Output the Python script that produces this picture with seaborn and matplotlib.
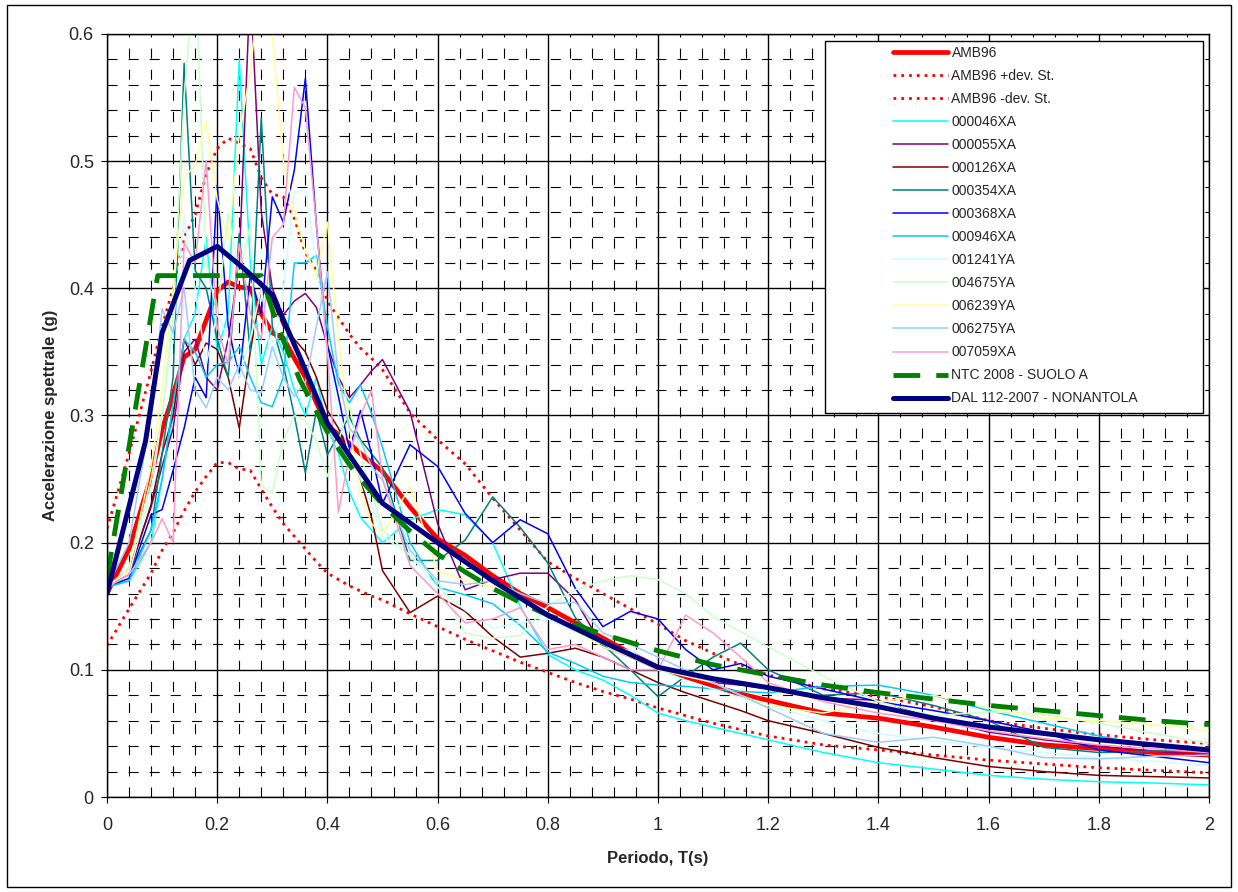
import matplotlib
matplotlib.use("Agg")
import matplotlib.pyplot as plt
from matplotlib.patches import Rectangle
from matplotlib.ticker import MultipleLocator, FuncFormatter
import seaborn as sns

# periods (s) for AMB96 curves and recorded spectra
periods = [0, 0.04, 0.08, 0.10, 0.12, 0.14, 0.16, 0.18, 0.20, 0.22,
           0.24, 0.26, 0.28, 0.30, 0.32, 0.34, 0.36, 0.38, 0.40, 0.42,
           0.44, 0.46, 0.48, 0.50, 0.55, 0.60, 0.65, 0.70, 0.75, 0.80,
           0.85, 0.90, 0.95, 1.00, 1.05, 1.10, 1.15, 1.20, 1.3, 1.4,
           1.5, 1.6, 1.7, 1.8, 1.9, 2.0]

amb96 = [0.160, 0.195, 0.252, 0.289, 0.316, 0.346, 0.352, 0.375, 0.398, 0.405,
         0.401, 0.400, 0.380, 0.365, 0.361, 0.345, 0.330, 0.310, 0.292, 0.285,
         0.278, 0.270, 0.263, 0.256, 0.228, 0.203, 0.190, 0.174, 0.160, 0.149,
         0.137, 0.125, 0.113, 0.102, 0.094, 0.087, 0.081, 0.076, 0.066, 0.062,
         0.055, 0.047, 0.041, 0.038, 0.035, 0.033]
amb96_plus = [0.211, 0.270, 0.335, 0.370, 0.400, 0.440, 0.458, 0.490, 0.510, 0.518,
              0.514, 0.510, 0.487, 0.474, 0.472, 0.455, 0.428, 0.414, 0.390, 0.377,
              0.364, 0.353, 0.345, 0.336, 0.302, 0.281, 0.262, 0.235, 0.210, 0.185,
              0.172, 0.160, 0.148, 0.136, 0.123, 0.113, 0.104, 0.096, 0.085, 0.079,
              0.071, 0.060, 0.054, 0.049, 0.045, 0.042]
amb96_minus = [0.119, 0.148, 0.176, 0.194, 0.208, 0.225, 0.240, 0.252, 0.263, 0.263,
               0.258, 0.257, 0.242, 0.228, 0.215, 0.205, 0.195, 0.185, 0.176, 0.171,
               0.166, 0.162, 0.158, 0.155, 0.144, 0.134, 0.124, 0.115, 0.106, 0.098,
               0.090, 0.083, 0.077, 0.070, 0.064, 0.058, 0.053, 0.048, 0.041, 0.037,
               0.033, 0.029, 0.026, 0.023, 0.021, 0.019]

rec_000046XA = [0.165, 0.170, 0.200, 0.250, 0.300, 0.360, 0.380, 0.440, 0.350, 0.380,
                0.580, 0.420, 0.340, 0.370, 0.350, 0.320, 0.300, 0.330, 0.290, 0.270,
                0.240, 0.220, 0.210, 0.200, 0.218, 0.226, 0.222, 0.200, 0.150, 0.112,
                0.100, 0.092, 0.080, 0.066, 0.060, 0.055, 0.050, 0.045, 0.035, 0.027,
                0.022, 0.017, 0.014, 0.012, 0.011, 0.0095]
rec_000055XA = [0.165, 0.180, 0.228, 0.260, 0.290, 0.350, 0.360, 0.330, 0.320, 0.360,
                0.420, 0.640, 0.460, 0.400, 0.379, 0.390, 0.396, 0.385, 0.355, 0.330,
                0.314, 0.324, 0.335, 0.344, 0.303, 0.215, 0.163, 0.171, 0.176, 0.176,
                0.155, 0.118, 0.110, 0.100, 0.095, 0.090, 0.088, 0.085, 0.078, 0.076,
                0.062, 0.051, 0.045, 0.040, 0.036, 0.033]
rec_000126XA = [0.165, 0.175, 0.230, 0.270, 0.300, 0.360, 0.340, 0.357, 0.352, 0.330,
                0.290, 0.350, 0.400, 0.390, 0.370, 0.360, 0.350, 0.330, 0.304, 0.290,
                0.270, 0.250, 0.220, 0.178, 0.145, 0.158, 0.146, 0.126, 0.110, 0.113,
                0.117, 0.110, 0.100, 0.090, 0.082, 0.075, 0.068, 0.060, 0.050, 0.039,
                0.031, 0.024, 0.020, 0.017, 0.016, 0.015]
rec_000354XA = [0.165, 0.175, 0.210, 0.270, 0.330, 0.577, 0.414, 0.400, 0.360, 0.330,
                0.443, 0.350, 0.534, 0.370, 0.340, 0.300, 0.255, 0.304, 0.269, 0.285,
                0.299, 0.281, 0.270, 0.259, 0.186, 0.186, 0.202, 0.236, 0.212, 0.184,
                0.141, 0.120, 0.100, 0.079, 0.095, 0.110, 0.121, 0.100, 0.080, 0.082,
                0.072, 0.060, 0.039, 0.035, 0.036, 0.037]
rec_000368XA = [0.165, 0.172, 0.222, 0.226, 0.257, 0.290, 0.330, 0.314, 0.481, 0.370,
                0.330, 0.410, 0.380, 0.472, 0.452, 0.493, 0.565, 0.450, 0.355, 0.315,
                0.273, 0.304, 0.270, 0.231, 0.277, 0.260, 0.223, 0.200, 0.218, 0.207,
                0.164, 0.134, 0.146, 0.140, 0.116, 0.100, 0.105, 0.095, 0.085, 0.075,
                0.068, 0.060, 0.051, 0.037, 0.032, 0.027]
rec_000946XA = [0.165, 0.170, 0.210, 0.250, 0.310, 0.360, 0.350, 0.330, 0.340, 0.342,
                0.354, 0.330, 0.310, 0.307, 0.330, 0.420, 0.420, 0.426, 0.370, 0.325,
                0.310, 0.324, 0.302, 0.275, 0.200, 0.165, 0.159, 0.152, 0.135, 0.114,
                0.105, 0.095, 0.090, 0.088, 0.087, 0.085, 0.083, 0.082, 0.087, 0.088,
                0.080, 0.068, 0.058, 0.048, 0.040, 0.035]
rec_001241YA = [0.165, 0.175, 0.240, 0.300, 0.370, 0.456, 0.400, 0.340, 0.380, 0.360,
                0.330, 0.360, 0.400, 0.340, 0.400, 0.476, 0.477, 0.420, 0.350, 0.300,
                0.270, 0.250, 0.230, 0.205, 0.190, 0.165, 0.147, 0.133, 0.137, 0.140,
                0.130, 0.120, 0.115, 0.100, 0.092, 0.085, 0.078, 0.072, 0.060, 0.050,
                0.044, 0.039, 0.035, 0.031, 0.028, 0.025]
rec_004675YA = [0.165, 0.180, 0.250, 0.300, 0.380, 0.550, 0.660, 0.420, 0.380, 0.459,
                0.410, 0.450, 0.245, 0.239, 0.280, 0.300, 0.296, 0.280, 0.252, 0.280,
                0.307, 0.270, 0.240, 0.210, 0.190, 0.170, 0.129, 0.125, 0.127, 0.150,
                0.163, 0.170, 0.174, 0.171, 0.160, 0.142, 0.130, 0.118, 0.095, 0.075,
                0.064, 0.067, 0.065, 0.058, 0.050, 0.042]
rec_006239YA = [0.165, 0.180, 0.260, 0.320, 0.400, 0.487, 0.497, 0.532, 0.470, 0.438,
                0.520, 0.570, 0.650, 0.600, 0.500, 0.460, 0.430, 0.410, 0.452, 0.360,
                0.290, 0.240, 0.215, 0.207, 0.244, 0.178, 0.170, 0.165, 0.155, 0.145,
                0.130, 0.118, 0.110, 0.100, 0.095, 0.090, 0.080, 0.072, 0.066, 0.075,
                0.080, 0.070, 0.062, 0.060, 0.057, 0.052]
rec_006275YA = [0.165, 0.200, 0.300, 0.384, 0.365, 0.400, 0.320, 0.306, 0.330, 0.320,
                0.340, 0.320, 0.318, 0.354, 0.330, 0.315, 0.326, 0.370, 0.413, 0.330,
                0.290, 0.280, 0.260, 0.249, 0.194, 0.170, 0.167, 0.170, 0.160, 0.152,
                0.153, 0.129, 0.120, 0.110, 0.100, 0.090, 0.080, 0.070, 0.050, 0.043,
                0.047, 0.040, 0.031, 0.030, 0.032, 0.033]
rec_007059XA = [0.165, 0.175, 0.200, 0.219, 0.200, 0.436, 0.420, 0.500, 0.370, 0.340,
                0.435, 0.380, 0.360, 0.440, 0.450, 0.558, 0.542, 0.450, 0.350, 0.224,
                0.269, 0.300, 0.320, 0.250, 0.182, 0.160, 0.137, 0.140, 0.149, 0.116,
                0.120, 0.110, 0.100, 0.100, 0.143, 0.129, 0.110, 0.090, 0.075, 0.066,
                0.060, 0.052, 0.046, 0.041, 0.038, 0.035]

# NTC 2008 spectrum, soil A
ntc_T = [0, 0.092, 0.28, 0.30, 0.32, 0.35, 0.40, 0.45, 0.50, 0.55, 0.60, 0.65, 0.70,
         0.75, 0.80, 0.90, 1.0, 1.1, 1.2, 1.3, 1.4, 1.5, 1.6, 1.7, 1.8, 1.9, 2.0]
ntc_sa = [0.172, 0.410, 0.410, 0.383, 0.359, 0.328, 0.287, 0.255, 0.230, 0.209, 0.191,
          0.177, 0.164, 0.153, 0.143, 0.128, 0.115, 0.104, 0.096, 0.088, 0.082, 0.077,
          0.072, 0.068, 0.064, 0.060, 0.057]

# DAL 112-2007 spectrum, Nonantola
dal_T = [0, 0.07, 0.10, 0.15, 0.20, 0.25, 0.30, 0.35, 0.40, 0.50, 0.60, 0.70, 0.80,
         0.90, 1.0, 1.1, 1.2, 1.3, 1.4, 1.5, 1.6, 1.7, 1.8, 1.9, 2.0]
dal_sa = [0.160, 0.280, 0.365, 0.422, 0.433, 0.415, 0.395, 0.346, 0.294, 0.231, 0.200,
          0.170, 0.143, 0.122, 0.102, 0.093, 0.086, 0.078, 0.071, 0.062, 0.055, 0.050,
          0.045, 0.041, 0.037]

records = [('000046XA', rec_000046XA, '#00FFFF'),
           ('000055XA', rec_000055XA, '#800080'),
           ('000126XA', rec_000126XA, '#800000'),
           ('000354XA', rec_000354XA, '#008080'),
           ('000368XA', rec_000368XA, '#0000FF'),
           ('000946XA', rec_000946XA, '#00CCFF'),
           ('001241YA', rec_001241YA, '#CCFFFF'),
           ('004675YA', rec_004675YA, '#CCFFCC'),
           ('006239YA', rec_006239YA, '#FFFF99'),
           ('006275YA', rec_006275YA, '#99CCFF'),
           ('007059XA', rec_007059XA, '#FF99CC')]

sns.set_style("white")
plt.rcParams['font.family'] = ['Liberation Sans', 'DejaVu Sans']

W, H = 1238, 892
fig = plt.figure(figsize=(W / 100, H / 100), dpi=100)
ax = fig.add_axes([107 / W, 1 - 797 / H, (1209 - 107) / W, (797 - 34) / H])

sns.lineplot(x=periods, y=amb96, color='#FF0000', lw=3.4, label='AMB96', ax=ax,
             estimator=None, sort=False)
sns.lineplot(x=periods, y=amb96_plus, color='#FF0000', lw=2.0, linestyle=(0, (1, 1.8)),
             label='AMB96 +dev. St.', ax=ax, estimator=None, sort=False)
sns.lineplot(x=periods, y=amb96_minus, color='#FF0000', lw=2.0, linestyle=(0, (1, 1.8)),
             label='AMB96 -dev. St.', ax=ax, estimator=None, sort=False)
for name, vals, col in records:
    sns.lineplot(x=periods, y=vals, color=col, lw=1.1, label=name, ax=ax,
                 estimator=None, sort=False)
sns.lineplot(x=ntc_T, y=ntc_sa, color='#008000', lw=3.5, linestyle=(0, (5.5, 3.3)),
             label='NTC 2008 - SUOLO A', ax=ax, estimator=None, sort=False)
sns.lineplot(x=dal_T, y=dal_sa, color='#000080', lw=3.6, label='DAL 112-2007 - NONANTOLA',
             ax=ax, estimator=None, sort=False)

ax.set_xlim(0, 2)
ax.set_ylim(0, 0.6)
ax.xaxis.set_major_locator(MultipleLocator(0.2))
ax.xaxis.set_minor_locator(MultipleLocator(0.04))
ax.yaxis.set_major_locator(MultipleLocator(0.1))
ax.yaxis.set_minor_locator(MultipleLocator(0.02))
fmt = FuncFormatter(lambda v, p: '%g' % round(v, 2))
ax.xaxis.set_major_formatter(fmt)
ax.yaxis.set_major_formatter(fmt)

ax.set_axisbelow(True)
ax.grid(which='major', color='black', lw=1.0, ls='-')
ax.grid(which='minor', color='black', lw=0.8, ls=(0, (9, 10)))
ax.tick_params(which='major', direction='out', length=4.5, width=0.8, color='black',
               labelsize=13, bottom=True, left=True)
ax.tick_params(axis='x', pad=10)
ax.tick_params(axis='y', pad=5)
ax.tick_params(which='minor', length=0)
for s in ax.spines.values():
    s.set_color('black')
    s.set_linewidth(1.0)

ax.set_xlabel('Periodo, T(s)', fontsize=12, fontweight='bold', labelpad=12)
ax.set_ylabel('Accelerazione spettrale (g)', fontsize=12, fontweight='bold', labelpad=8)

# legend box drawn like the spreadsheet one
box = Rectangle((825 / W, 1 - 413 / H), (1203 - 825) / W, (413 - 41) / H,
                transform=fig.transFigure, facecolor='white', edgecolor='black',
                lw=1.0, zorder=10, clip_on=False)
ax.add_patch(box)
leg = ax.legend(loc='upper left', bbox_to_anchor=(893 / W, 1 - 46 / H),
                bbox_transform=fig.transFigure, frameon=False, fontsize=10,
                borderpad=0, borderaxespad=0, handlelength=3.96, handletextpad=0.25,
                labelspacing=0.65)
leg.set_zorder(11)

# outer border of the chart area
fig.add_artist(Rectangle((7 / W, 1 - 887 / H), (1231 - 7) / W, (887 - 5) / H,
                         transform=fig.transFigure, fill=False, edgecolor='black', lw=1.0))

fig.savefig('out.png', dpi=100)
